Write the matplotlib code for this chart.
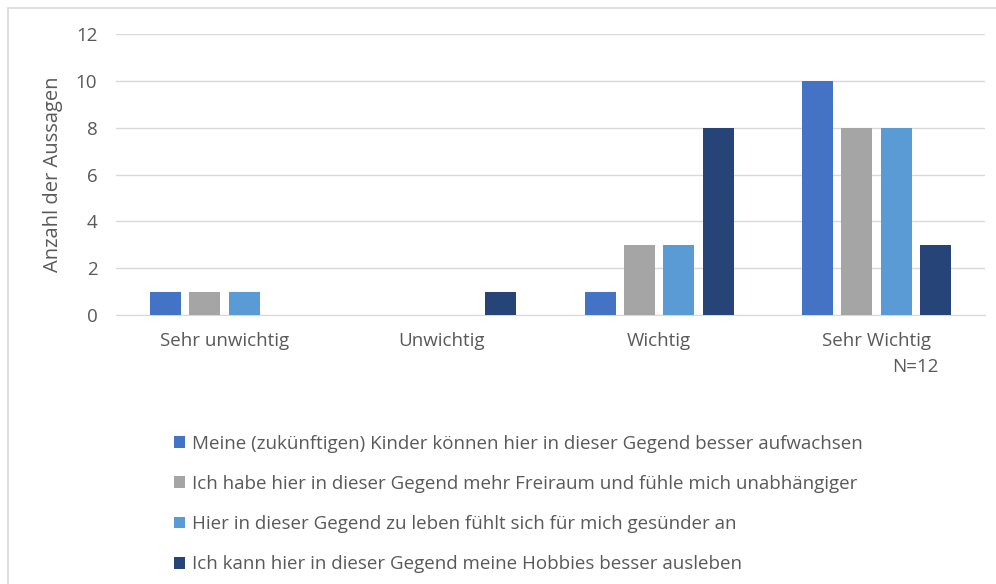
import matplotlib
matplotlib.use("Agg")
import matplotlib.pyplot as plt
import numpy as np
from matplotlib.patches import Rectangle

categories = ["Sehr unwichtig", "Unwichtig", "Wichtig", "Sehr Wichtig"]
series_names = [
    "Meine (zukünftigen) Kinder können hier in dieser Gegend besser aufwachsen",
    "Ich habe hier in dieser Gegend mehr Freiraum und fühle mich unabhängiger",
    "Hier in dieser Gegend zu leben fühlt sich für mich gesünder an",
    "Ich kann hier in dieser Gegend meine Hobbies besser ausleben",
]
s1 = [1, 0, 1, 10]
s2 = [1, 0, 3, 8]
s3 = [1, 0, 3, 8]
s4 = [0, 1, 8, 3]
series = [s1, s2, s3, s4]
colors = ["#4472C4", "#A5A5A5", "#5B9BD5", "#264478"]
yticks = [0, 2, 4, 6, 8, 10, 12]

plt.rcParams['font.family'] = ['Open Sans', 'DejaVu Sans']
txt = "#595959"

W, H = 996, 584
fig = plt.figure(figsize=(W/100, H/100), dpi=100)
fig.patches.append(Rectangle((8/W, -0.1), 1.1, (H-8)/H + 0.1, transform=fig.transFigure,
                             fill=False, edgecolor="#D9D9D9", linewidth=1.2))

ax = fig.add_axes([116/W, 1 - 315/H, (985-116)/W, (315-34)/H])
x = np.arange(len(categories))
step = 0.181
bw = 0.143
for i, (vals, c) in enumerate(zip(series, colors)):
    ax.bar(x + (i - 1.5) * step, vals, width=bw, color=c, label=series_names[i], zorder=3)

ax.set_xlim(-0.5, len(categories) - 0.5)
ax.set_ylim(0, 12)
ax.set_yticks(yticks)
ax.set_yticklabels([str(v) for v in yticks], fontsize=13.5, color=txt)
ax.set_xticks(x)
ax.set_xticklabels(categories, fontsize=13.5, color=txt)
ax.tick_params(axis='both', length=0)
ax.tick_params(axis='y', pad=13.5)
ax.tick_params(axis='x', pad=12)
ax.grid(axis='y', color="#D9D9D9", linewidth=1, zorder=0)
for s in ["top", "right", "left"]:
    ax.spines[s].set_visible(False)
ax.spines["bottom"].set_color("#D9D9D9")
ax.set_ylabel("Anzahl der Aussagen", fontsize=14.5, color=txt, labelpad=9)

fig.text(915/W, 1 - 367/H, "N=12", fontsize=13.5, color=txt, ha='center', va='center')

handles, labels = ax.get_legend_handles_labels()
leg = fig.legend(handles, labels, loc='upper left', bbox_to_anchor=(157/W, 1 - 418/H),
                 frameon=False, fontsize=13.5, labelcolor=txt, handlelength=0.6,
                 handleheight=0.6, handletextpad=0.35, labelspacing=1.18)

fig.savefig("out.png", dpi=100)
